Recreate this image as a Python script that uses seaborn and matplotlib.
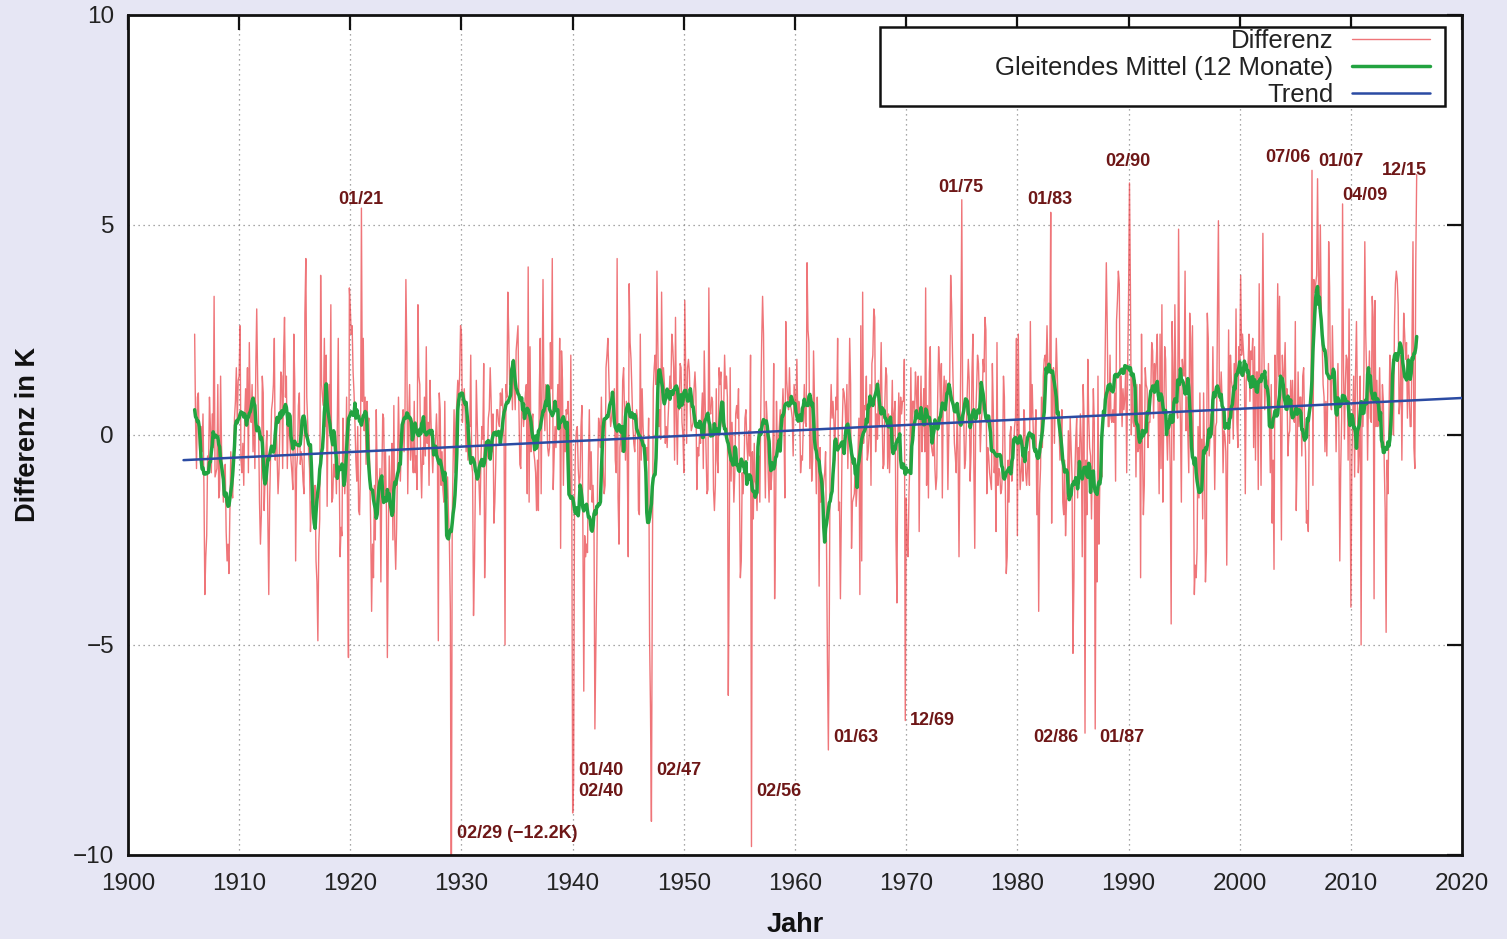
import numpy as np
import pandas as pd
import matplotlib
matplotlib.use("Agg")
import matplotlib.pyplot as plt
from matplotlib.patches import Rectangle
import seaborn as sns

# Monthly temperature difference (K), January 1906 .. December 2015, one row per year
first_year = 1906

diff_1906_1909 = [
    2.4, 0.3, -0.8, 0.9, 1.0, -0.2, -0.6, 0.2, -0.4, 0.5, -1.2, -3.8,
    -2.9, -2.4, -0.5, -0.8, 0.9, 0.2, -0.9, 0.5, -0.3, 3.3, -1.0, -0.9,
    -0.8, 1.2, -1.5, -1.3, 1.4, -0.3, -0.9, -1.6, -1.0, -0.7, -2.3, -3.0,
    -2.6, -3.3, -1.9, -0.4, -1.2, -1.5, -0.7, 0.4, 0.8, 1.6, 0.3, 1.3,
]
diff_1910s = [
    1.4, 2.6, -0.6, -0.9, -0.2, -1.2, 0.4, 1.1, 0.5, 1.6, -0.9, 2.2,
    0.5, 0.3, 1.2, -0.4, 0.9, -0.8, 1.6, 3.0, 1.3, 0.2, -1.6, -2.6,
    -1.9, 1.4, 1.0, -1.8, -1.0, -0.3, 0.1, -2.0, -3.8, -1.5, -0.4, 0.6,
    0.8, 1.2, 2.3, -0.6, 0.4, -0.5, -1.4, -0.9, 0.2, 1.5, 1.4, -0.8,
    1.9, 2.8, 0.9, 1.4, -0.8, 0.3, 0.1, -0.2, -0.6, -0.9, -1.3, 2.4,
    1.3, -3.0, -0.8, -0.5, 0.7, 1.0, -0.7, -0.4, -0.6, -1.1, -1.4, 2.9,
    4.2, 0.9, 0.3, -0.4, -0.8, -2.3, -1.6, -1.4, -1.9, -1.5, -1.2, -3.0,
    -3.5, -4.9, -2.6, -2.0, 3.8, 1.2, 0.9, 0.7, 2.3, 0.2, 1.9, -1.7,
    0.6, 1.2, 0.4, 3.1, -1.6, -1.5, -0.7, -1.0, -0.5, -1.4, 0.3, 2.3,
    -0.8, -2.9, -2.2, -2.4, 0.4, -0.3, -1.4, -0.8, 0.9, -1.9, -5.3, 3.5,
]
diff_1920s = [
    3.0, 2.4, 2.6, 1.5, 1.0, 0.3, -0.6, -1.1, 0.2, -1.8, -1.9, -0.8,
    5.4, 0.8, 2.3, 0.1, 0.9, -0.7, 0.8, 0.2, 0.4, -0.8, -2.2, -4.2,
    -2.6, -3.4, -1.2, -2.5, 0.6, -0.9, -1.8, -1.3, -0.8, -3.5, -1.1, 0.5,
    0.4, -1.6, -0.4, -1.8, -5.3, -2.6, -0.5, -1.7, -1.3, -0.2, -2.5, 0.7,
    -2.4, -3.2, -2.2, -0.7, 0.9, -0.4, -1.1, -0.3, 0.3, 0.6, -0.4, 0.5,
    3.7, 2.0, -1.4, 0.3, 1.2, -0.6, 0.4, -0.5, -0.9, 0.8, -0.9, -0.5,
    -1.3, 3.1, 1.4, 1.2, -0.6, -1.5, -0.3, -0.7, 0.9, -0.5, 2.1, -0.2,
    0.3, -1.2, 1.3, 0.4, -0.3, -0.9, -0.2, -0.4, -0.1, 0.5, -0.2, -4.9,
    1.0, 0.6, -1.2, -0.4, -1.3, -1.6, 0.8, -1.6, -1.5, -1.0, -1.9, -2.6,
    -4.2, -12.2, -2.0, -0.6, 0.6, -0.9, 0.3, 0.8, 1.3, 0.9, 1.4, 2.6,
]
diff_1930s = [
    2.4, 0.3, 0.8, 1.1, 0.5, -0.4, 0.2, -0.6, 0.3, 0.2, 1.9, -0.7,
    -0.9, -4.3, -3.1, -1.2, 1.3, 0.4, -0.6, -1.2, -1.9, -0.6, 0.2, -0.1,
    1.7, -3.4, -2.2, -0.6, -0.5, 0.4, 0.6, 1.6, 0.8, -0.4, 0.5, -2.1,
    -1.6, -0.7, 0.6, 0.6, 0.3, 0.2, 1.0, 0.7, 1.1, 0.4, -0.1, -5.0,
    1.2, 0.9, 3.4, 2.4, 1.2, 1.5, 1.6, 0.6, 1.8, 1.2, 0.6, 2.0,
    2.3, 2.6, 0.6, -0.7, -0.8, 0.9, 0.7, 0.2, 0.6, 1.0, 1.2, -1.4,
    4.0, -1.6, 2.1, -0.4, 0.3, 0.5, -0.4, -0.6, -0.9, -1.8, -0.6, -1.8,
    1.0, 2.3, -1.4, 1.1, 3.7, 0.9, 0.1, 1.2, 0.6, -0.3, -0.5, -0.3,
    2.2, 1.1, 4.2, -1.3, -0.5, 0.2, -0.3, 0.4, 1.2, 0.4, 2.3, -2.7,
    2.0, 1.3, -1.2, 0.4, -0.4, 0.6, 0.5, 0.8, 0.1, -1.4, 1.9, -1.0,
]
diff_1940s = [
    -9.0, -8.3, -1.6, -0.3, 0.1, 0.2, -0.8, -1.2, -1.0, 0.2, 0.7, -2.1,
    -6.1, -2.4, -2.9, -2.6, -2.8, -0.7, 0.6, -1.3, -0.4, -1.6, -1.2, -2.0,
    -7.0, -5.2, -3.3, -0.9, 0.4, 0.2, -0.3, 0.9, -0.5, -0.8, -1.4, -1.2,
    1.6, 1.9, 2.3, 1.4, 0.6, 0.2, 0.4, 0.7, 0.9, 1.1, -0.6, -0.9,
    4.2, -1.5, -2.6, -0.3, 0.1, -0.4, 1.3, 1.6, 0.5, -0.6, 0.8, -0.7,
    -2.9, 3.6, 2.2, 1.8, 1.0, 0.2, -0.2, -0.4, 0.3, 0.6, 0.4, -1.8,
    -1.9, 2.4, -0.6, 1.1, 0.2, -0.3, -0.5, -1.1, -0.3, -0.6, 0.4, -4.8,
    -6.5, -9.2, -3.4, 1.1, 1.6, 1.9, 1.2, 3.9, 2.1, 0.2, 0.6, -0.1,
    3.4, 1.0, 1.6, 1.2, -0.2, 0.2, -0.3, 0.4, 0.9, 1.4, 1.1, 2.4,
    2.1, 1.6, -0.6, 2.8, 0.5, -0.7, 0.9, 0.6, 1.7, 1.6, 0.3, 0.0,
]
diff_1950s = [
    -0.9, 3.2, 1.5, -0.2, 1.6, 1.8, 1.5, 0.6, 0.1, 0.2, 0.3, 1.1,
    1.5, 1.0, -1.3, -0.3, -0.5, 0.0, -0.2, 0.4, 1.0, -0.8, 2.0, 0.8,
    -0.4, -1.4, -1.3, 3.5, 0.6, 0.5, 0.9, 0.8, -1.3, -1.8, -1.2, 1.1,
    -0.6, -0.9, 1.6, 1.2, 1.5, 0.3, 0.2, 0.6, 1.9, 1.1, 1.4, 0.9,
    -6.2, -2.8, 1.6, -1.1, 0.3, -0.4, -1.6, -0.9, 0.5, 0.7, 0.4, 1.1,
    -1.2, -3.4, -3.0, -0.9, -1.4, -0.7, 0.4, 0.6, -0.2, -0.6, 0.1, -0.5,
    1.9, -9.8, -0.4, -2.0, -0.2, -1.1, -1.2, -1.8, -0.6, -0.5, -1.6, 0.5,
    2.2, 3.3, 2.4, 0.0, -1.5, 0.8, 0.3, -0.9, -1.6, -0.2, -1.3, -0.9,
    -0.6, 1.7, -3.9, -2.1, 0.8, -0.4, -0.3, 0.2, 0.6, 0.1, 0.4, 1.1,
    0.4, -1.5, 2.7, 1.3, 0.9, 0.6, 1.6, 0.7, 0.6, 0.4, -0.5, 1.2,
]
diff_1960s = [
    0.9, 0.6, 1.8, 0.3, 0.8, 0.6, -0.9, -0.5, -0.6, 0.3, 1.2, 0.3,
    0.2, 4.1, 2.5, 2.2, -0.8, 0.7, -1.1, -0.6, 2.0, 0.9, -0.3, -1.4,
    0.9, -0.2, -3.6, -0.3, -1.6, -1.3, -1.5, -1.1, -0.9, -0.4, -2.6, -5.4,
    -7.5, -4.4, 0.2, 1.2, 0.4, 0.8, 0.3, -0.6, 0.9, 0.6, 2.3, -1.8,
    -1.6, -3.9, -1.9, 0.2, 1.1, 1.0, 0.7, 0.1, 1.2, -0.8, 0.4, 2.3,
    1.2, -2.7, -1.6, -1.5, -1.4, -0.7, -1.7, -1.2, -0.4, 0.4, -3.8, 2.6,
    -3.0, 3.4, -0.2, 0.7, 0.6, 1.4, -0.6, -0.4, 0.0, 1.2, -1.2, 1.7,
    1.9, 3.0, 2.8, -0.4, 0.5, -0.1, 1.3, 0.2, 0.9, 2.2, 0.5, -0.8,
    -0.7, 0.8, 1.6, 1.4, -0.8, 0.5, -0.9, 0.0, 0.1, 1.3, -0.2, 0.5,
    0.8, -2.5, -4.0, -0.1, 1.0, -0.2, 0.9, 0.5, 0.8, 0.8, 1.8, -6.8,
]
diff_1970s = [
    -1.5, -2.6, -2.9, -1.4, -0.6, 1.6, -0.3, 0.8, 0.8, 0.4, 1.5, 1.0,
    0.4, 1.4, -2.3, 0.2, 1.4, -0.4, 0.4, 1.1, -0.4, 3.5, -1.2, 0.7,
    -1.5, 1.5, 2.1, -0.2, -0.4, -0.5, 0.3, -0.8, -1.3, -1.0, 0.9, 2.1,
    1.6, 0.6, 1.7, -1.5, 0.9, 1.4, 0.6, 1.3, 0.5, -1.3, 0.0, 1.4,
    3.8, 3.1, 1.9, 0.9, -0.2, -0.5, -0.9, 0.6, -0.4, -2.9, -0.2, 2.0,
    5.6, 0.3, 0.6, -0.8, -0.6, 0.3, 1.1, 1.8, 1.3, -1.1, -0.4, 1.5,
    2.4, -0.7, -2.7, 0.4, 1.1, 1.9, 1.7, 0.8, -0.4, 0.3, 0.6, 1.8,
    1.5, 2.8, 2.5, -1.4, -0.3, -0.5, -0.9, -1.1, -1.3, 1.7, 0.6, -0.9,
    -0.5, -2.3, 2.2, -1.2, -0.8, -0.9, -1.4, -1.3, -0.8, 1.4, 0.9, -1.3,
    -3.3, -2.9, -0.6, -1.6, 0.0, 0.2, -1.1, -0.8, -0.3, 0.2, 0.4, 2.3,
]
diff_1980s = [
    -2.4, 2.4, -0.3, -1.3, -0.9, -0.5, -1.1, 0.6, 0.3, -0.9, -1.2, -0.7,
    -0.4, -1.2, 2.7, 0.4, 1.2, 0.2, -0.4, -0.1, 0.6, -1.9, -0.5, -4.2,
    -1.4, -0.8, 0.9, -0.3, 1.4, 1.8, 1.9, 1.6, 2.6, 1.5, 1.5, 1.7,
    5.3, -2.1, 1.4, 1.6, -0.2, 1.1, 2.3, 1.5, 0.6, 0.1, -0.6, -0.2,
    0.6, -1.6, -1.9, -0.6, -2.4, -1.6, -1.2, 0.1, -1.3, 0.4, -0.3, -1.0,
    -5.2, -3.5, -1.0, -0.1, 0.4, -1.5, -0.3, -0.6, 0.5, -0.2, -2.9, 1.2,
    0.4, -7.1, -0.6, -1.9, 1.8, 0.4, -0.3, -0.5, -2.0, -0.6, 1.1, 0.3,
    -7.0, -1.4, -3.5, 1.4, -2.6, -1.1, -0.6, -1.0, 0.3, 0.6, 0.6, 2.3,
    4.1, 2.6, 0.2, 0.2, 1.9, 0.4, 0.3, 0.6, 0.3, 1.0, -1.1, 2.7,
    3.2, 3.9, 3.6, 0.5, 1.4, 0.2, 1.1, 0.6, 0.9, 1.6, -0.9, 1.5,
]
diff_1990s = [
    3.3, 6.0, 3.5, 0.0, 1.5, 0.3, 0.2, 1.3, -1.0, 1.2, -0.4, -0.3,
    1.2, -3.4, 2.4, -0.2, -1.9, -1.2, 1.6, 1.2, 1.1, -0.3, 0.3, 0.3,
    1.0, 2.2, 2.0, 0.4, 1.7, 1.1, 1.8, 2.4, 0.4, -1.4, 2.4, -0.8,
    3.1, -1.6, 0.4, 2.1, 1.8, 0.2, -0.6, 0.4, 0.4, -0.8, -4.5, 2.7,
    1.5, -0.6, 3.1, 1.2, 0.6, 0.4, 4.9, 1.4, 0.3, -1.6, 1.8, 1.5,
    1.4, 3.9, 0.1, 0.9, 0.0, -0.9, 2.9, 2.3, -0.4, 2.6, -0.7, -3.8,
    -3.1, -3.4, -2.7, 0.2, -1.5, 1.0, -1.3, -0.1, -2.0, 1.0, -0.7, -3.5,
    -2.8, 2.9, 2.3, -0.5, 0.0, 0.5, 0.0, 2.1, 0.4, -1.3, 0.2, 0.3,
    3.0, 5.1, 1.1, 0.8, 1.5, 0.8, -0.9, 0.1, 0.0, -0.4, -3.1, -0.3,
    2.5, -0.2, 1.9, 1.3, 1.1, -0.1, 1.7, 0.6, 3.0, 0.3, -0.3, 2.1,
]
diff_2000s = [
    1.8, 3.8, 1.9, 2.4, 2.0, 1.6, -1.4, 1.3, 1.5, 1.7, 2.4, 0.8,
    2.0, 1.8, 2.3, -0.3, 2.1, -0.6, 1.5, 1.5, -1.3, 3.6, 1.0, -1.2,
    1.8, 4.8, 2.2, 0.6, 1.4, 1.3, 0.7, 1.7, 0.3, -0.9, 1.2, -2.1,
    -0.6, -3.2, 1.9, 0.6, 1.3, 3.6, 1.4, 3.3, 0.5, -2.5, 1.9, 1.2,
    1.4, 2.2, 0.7, 1.1, -0.5, 0.0, 0.1, 1.3, 0.4, 1.3, 0.4, 0.3,
    2.7, -1.8, -0.4, 1.5, 0.2, 0.9, 0.9, -0.5, 1.4, 1.6, 0.2, -0.4,
    -2.1, -1.8, -2.3, 0.4, 0.7, 1.2, 6.3, -1.2, 3.7, 3.4, 3.6, 3.8,
    6.1, 3.6, 3.0, 5.0, 2.9, 2.2, 1.2, 0.9, -0.4, 0.8, -0.5, 1.0,
    4.6, 3.5, 0.8, 0.6, 2.6, 1.4, 0.8, 1.3, -0.4, 0.9, 1.7, 0.2,
    -3.0, -0.8, 0.4, 5.5, 1.6, -0.1, 1.2, 1.9, 1.8, -0.6, 3.0, -0.6,
]
diff_2010_2015 = [
    -4.1, -0.6, 0.4, 1.4, -1.0, 1.5, 2.7, 0.8, -0.9, -0.4, 1.4, -5.0,
    0.8, 0.2, 1.4, 4.6, 2.4, 1.4, -0.6, 1.0, 2.0, 0.4, 0.3, 3.3,
    2.8, -3.9, 3.2, 0.2, 1.3, 0.2, 0.5, 1.6, 0.2, -0.3, 1.2, 0.8,
    -0.7, -1.8, -4.7, -0.6, -1.4, 0.2, 1.9, 1.3, 0.0, 1.8, 0.0, 2.6,
    3.6, 3.9, 3.7, 3.1, 0.5, 0.8, 1.9, -0.6, 1.5, 2.9, 2.4, 1.8,
    2.2, 0.4, 1.9, 0.9, 0.2, 0.2, 2.4, 4.6, -0.3, -0.8, 4.1, 6.2,
]

# Linear trend, given by its end points
trend_years = [1905, 2020]
trend_values = [-0.6, 0.88]

# Marked extreme months
extreme_names = ["01/21", "02/29 (\u221212.2K)", "01/40", "02/40", "02/47", "02/56",
                 "01/63", "12/69", "01/75", "01/83", "02/90", "02/86", "01/87",
                 "07/06", "01/07", "04/09", "12/15"]

# Where each extreme-month label sits (year, K) - left edge, vertical centre
label_spots = [(1918.9, 5.6), (1929.6, -9.5), (1940.5, -8.0), (1940.5, -8.5),
               (1947.5, -8.0), (1956.5, -8.5), (1963.4, -7.2), (1970.35, -6.8),
               (1972.85, 5.9), (1980.9, 5.6), (1987.9, 6.5), (1981.4, -7.2),
               (1987.4, -7.2), (2002.3, 6.6), (2007.05, 6.5), (2009.2, 5.7),
               (2012.8, 6.3)]

# ---------------------------------------------------------------------------
diff = np.array(diff_1906_1909 + diff_1910s + diff_1920s + diff_1930s + diff_1940s
                + diff_1950s + diff_1960s + diff_1970s + diff_1980s + diff_1990s
                + diff_2000s + diff_2010_2015)
months = pd.DataFrame({
    "Jahr": first_year + np.arange(len(diff)) / 12.0,
    "Differenz": diff,
})
months["Mittel"] = months["Differenz"].rolling(12, center=True, min_periods=6).mean()
trend = pd.DataFrame({"Jahr": trend_years, "Trend": trend_values})

sns.set_theme(style="white")
plt.rcParams["font.family"] = ["Liberation Sans", "DejaVu Sans"]
plt.rcParams["axes.unicode_minus"] = True

bg = "#e6e6f4"
fig = plt.figure(figsize=(15.07, 9.39), dpi=100, facecolor=bg)
ax = fig.add_axes([0.0849, 0.0895, 0.8853, 0.8946])
ax.set_facecolor("white")

sns.lineplot(data=months, x="Jahr", y="Differenz", ax=ax, color="#e8343a",
             linewidth=1.0, alpha=0.68, estimator=None, label="Differenz", zorder=2)
sns.lineplot(data=months, x="Jahr", y="Mittel", ax=ax, color="#22a340",
             linewidth=2.5, estimator=None, label="Gleitendes Mittel (12 Monate)", zorder=3)
sns.lineplot(data=trend, x="Jahr", y="Trend", ax=ax, color="#2b4ba3",
             linewidth=1.8, estimator=None, label="Trend", zorder=4)

ax.set_xlim(1900, 2020)
ax.set_ylim(-10, 10)
ax.set_xticks(np.arange(1900, 2021, 10))
ax.set_yticks([-10, -5, 0, 5, 10])
ax.grid(True, linestyle=(0, (1, 3)), color="#8a8a8a", linewidth=0.9)
ax.set_axisbelow(True)

for side in ax.spines.values():
    side.set_linewidth(2.0)
    side.set_color("#111111")
ax.tick_params(axis="both", direction="in", length=11, width=1.6, colors="#111111",
               top=True, right=True, labelsize=17.5, labelcolor="#222222")
ax.tick_params(axis="x", pad=13)
ax.tick_params(axis="y", pad=10)

ax.set_xlabel("Jahr", fontsize=19.5, fontweight="bold", labelpad=12, color="#111111")
ax.set_ylabel("Differenz in K", fontsize=19.5, fontweight="bold", labelpad=23, color="#111111")

for name, (lx, ly) in zip(extreme_names, label_spots):
    ax.text(lx, ly, name, ha="left", va="center", fontsize=13, fontweight="bold",
            color="#6e1717", zorder=6)

# Legend: boxed, text right-aligned against the line samples
ax.add_patch(Rectangle((0.5637, 0.8917), 0.4236, 0.094, transform=ax.transAxes,
                       facecolor="white", edgecolor="#111111", linewidth=1.8, zorder=7))
handles, labels = ax.get_legend_handles_labels()
leg = ax.legend(handles, labels, loc="upper right", bbox_to_anchor=(0.9775, 0.986),
                frameon=False, markerfirst=False, fontsize=18.5, handlelength=3.0,
                handletextpad=0.75, labelspacing=0.12, borderpad=0.1, borderaxespad=0)
leg.set_zorder(8)
for t in leg.get_texts():
    t.set_color("#222222")

fig.savefig("out.png", dpi=100, facecolor=bg)
